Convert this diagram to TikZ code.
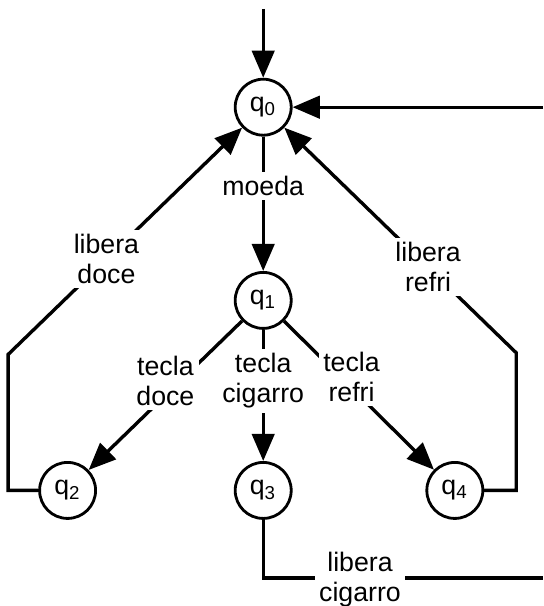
\documentclass[tikz,border=0pt]{standalone}
\usepackage{fontspec}
\setmainfont{Liberation Sans}
\usetikzlibrary{positioning, arrows.meta}

\begin{document}
\begin{tikzpicture}[node distance=1.68cm, >={Triangle[length=0.34cm,width=0.28cm]},
        line width=1.2pt,
        font=\fontsize{9.5}{10.7}\selectfont,
        % estilo dos estados
        estado/.style={
            draw,
            circle,
            line width=1pt,
            minimum size=0.7cm,
            inner sep=0pt
        },
        rotulo/.style={fill=white, align=center, inner sep=1.5pt}
    ]

        \useasboundingbox (0,0) rectangle (6.7875,-7.575);

        % Estados
        \node[estado] (q0) at (3.29,-1.34) {q\textsubscript{0}};
        \node[estado, below=of q0] (q1) {q\textsubscript{1}};
        \node[estado, below=1.64cm of q1] (q3) {q\textsubscript{3}};
        \node[estado, left=1.71cm of q3] (q2) {q\textsubscript{2}};
        \node[estado, right=1.66cm of q3] (q4) {q\textsubscript{4}};

        % Pontos livres
        \coordinate[above=0.86cm of q0] (inicio);
        \coordinate (direita) at (6.7875,-1.34);
        \coordinate (baixo) at (6.7875,-7.225);

        % Transicoes
        \draw[->] (inicio) -- (q0);
        \draw[->] (q0) -- node[rotulo, pos=0.37] {moeda} (q1);
        \draw[->] (q1) -- node[rotulo, yshift=0.18cm] {tecla\\doce} (q2);
        \draw[->] (q1) -- node[rotulo, pos=0.39] {tecla\\cigarro} (q3);
        \draw[->] (q1) -- node[rotulo, pos=0.45, yshift=0.14cm] {tecla\\refri} (q4);
        \draw[->] (q2.west) -- ++(-0.375,0) -- ++(0,1.7) -- node[rotulo, pos=0.42] {libera\\doce} (q0);
        \draw[->] (q4.east) -- ++(0.4,0) -- ++(0,1.72) -- node[rotulo, pos=0.38] {libera\\refri} (q0);
        \draw (q3) |- node[rotulo, pos=0.673, yshift=-0.02cm] {libera\\cigarro} (baixo);
        \draw[->] (direita) -- (q0);
    \end{tikzpicture}
\end{document}
